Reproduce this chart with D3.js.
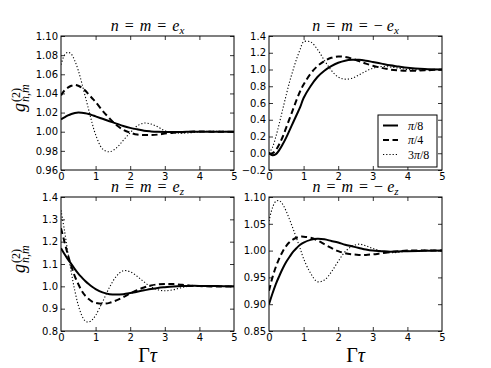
<!DOCTYPE html>
<html>
<head>
<meta charset="utf-8">
<script src="https://cdn.jsdelivr.net/npm/d3@7"></script>
<style>
  body { margin: 0; background: #fff; }
  text { fill: #000; }
</style>
</head>
<body>
<div id="chart"></div>
<script>
// sample points (Gamma tau)
const tau = [0, 0.1, 0.2, 0.3, 0.4, 0.5, 0.6, 0.7, 0.8, 0.9, 1.0, 1.2, 1.4, 1.6, 1.8, 2.0,
             2.2, 2.4, 2.6, 2.8, 3.0, 3.25, 3.5, 3.75, 4.0, 4.5, 5.0];

// n = m = e_x
const exPi8  = [1.013, 1.015, 1.017, 1.0185, 1.0195, 1.020, 1.0198, 1.0193, 1.0185, 1.0173, 1.016, 1.0135, 1.011, 1.0085, 1.006, 1.004,
                1.0025, 1.001, 1.0003, 0.9999, 0.9997, 0.9997, 0.9998, 0.9999, 1.0, 1.0, 1.0];
const exPi4  = [1.038, 1.043, 1.046, 1.048, 1.049, 1.048, 1.046, 1.043, 1.039, 1.035, 1.031, 1.022, 1.014, 1.007, 1.002, 0.999,
                0.997, 0.9965, 0.9965, 0.997, 0.998, 0.999, 0.9995, 1.0, 1.0002, 1.0, 1.0];
const ex3Pi8 = [1.070, 1.080, 1.083, 1.081, 1.074, 1.064, 1.051, 1.037, 1.023, 1.009, 0.997, 0.982, 0.979, 0.983, 0.991, 0.999,
                1.006, 1.009, 1.008, 1.005, 1.001, 0.999, 0.9985, 0.999, 1.0, 1.0005, 1.0];

// n = m = -e_x
const mexPi8  = [0.0, -0.025, -0.01, 0.04, 0.11, 0.19, 0.28, 0.37, 0.46, 0.55, 0.66, 0.80, 0.91, 0.985, 1.04, 1.08,
                 1.105, 1.115, 1.115, 1.105, 1.09, 1.07, 1.05, 1.035, 1.02, 1.005, 1.0];
const mexPi4  = [0.0, 0.0, 0.04, 0.11, 0.2, 0.31, 0.42, 0.53, 0.64, 0.74, 0.82, 0.95, 1.04, 1.10, 1.14, 1.155,
                 1.15, 1.13, 1.10, 1.07, 1.045, 1.02, 1.0, 0.99, 0.985, 0.99, 1.0];
const mex3Pi8 = [0.0, 0.07, 0.2, 0.36, 0.53, 0.70, 0.86, 1.0, 1.13, 1.24, 1.33, 1.33, 1.24, 1.11, 0.99, 0.91,
                 0.885, 0.895, 0.935, 0.98, 1.015, 1.035, 1.03, 1.015, 1.0, 0.995, 1.0];

// n = m = e_z
const ezPi8  = [1.17, 1.145, 1.12, 1.10, 1.077, 1.057, 1.04, 1.024, 1.01, 0.998, 0.988, 0.973, 0.965, 0.963, 0.965, 0.97,
                0.976, 0.982, 0.988, 0.993, 0.996, 0.999, 1.001, 1.002, 1.002, 1.001, 1.0];
const ezPi4  = [1.26, 1.20, 1.14, 1.09, 1.045, 1.01, 0.98, 0.958, 0.943, 0.932, 0.926, 0.922, 0.926, 0.937, 0.952, 0.968,
                0.983, 0.995, 1.004, 1.009, 1.011, 1.01, 1.007, 1.003, 1.001, 0.999, 1.0];
const ez3Pi8 = [1.34, 1.25, 1.15, 1.06, 0.98, 0.915, 0.87, 0.845, 0.84, 0.85, 0.87, 0.93, 0.995, 1.045, 1.07, 1.065,
                1.045, 1.02, 0.998, 0.985, 0.98, 0.985, 0.995, 1.002, 1.004, 1.001, 1.0];

// n = m = -e_z
const mezPi8  = [0.900, 0.92, 0.938, 0.953, 0.967, 0.979, 0.989, 0.998, 1.005, 1.011, 1.015, 1.020, 1.022, 1.021, 1.018, 1.015,
                 1.011, 1.008, 1.005, 1.002, 1.0, 0.999, 0.998, 0.9985, 0.999, 0.9995, 1.0];
const mezPi4  = [0.925, 0.95, 0.97, 0.986, 0.999, 1.009, 1.016, 1.021, 1.024, 1.026, 1.026, 1.024, 1.019, 1.012, 1.005, 0.999,
                 0.995, 0.993, 0.992, 0.992, 0.993, 0.995, 0.997, 0.999, 1.0, 1.0, 1.0];
const mez3Pi8 = [1.055, 1.08, 1.092, 1.093, 1.086, 1.073, 1.057, 1.04, 1.022, 1.004, 0.985, 0.958, 0.942, 0.945, 0.960, 0.980,
                 0.998, 1.008, 1.012, 1.009, 1.004, 0.999, 0.996, 0.997, 0.999, 1.0005, 1.0];

const xTicks = [0, 1, 2, 3, 4, 5];
const yTicksEx  = [0.96, 0.98, 1.00, 1.02, 1.04, 1.06, 1.08, 1.10];
const yTicksMex = [-0.2, 0.0, 0.2, 0.4, 0.6, 0.8, 1.0, 1.2, 1.4];
const yTicksEz  = [0.8, 0.9, 1.0, 1.1, 1.2, 1.3, 1.4];
const yTicksMez = [0.85, 0.90, 0.95, 1.00, 1.05, 1.10];
const legendLabels = ["π/8", "π/4", "3π/8"];

const W = 491, H = 368
const styles = [
    {width: 2, dash: null},
    {width: 2, dash: "6,3.5"},
    {width: 1.1, dash: "1.2,2"}
]

const panels = [
    {x0: 61, x1: 234, y0: 36, y1: 170, dom: [0.96, 1.10], ticks: yTicksEx, fmt: d3.format(".2f"),
     neg: false, sub: "x", series: [exPi8, exPi4, ex3Pi8], ylab: true, xlab: false},
    {x0: 269, x1: 442, y0: 36, y1: 170, dom: [-0.2, 1.4], ticks: yTicksMex, fmt: d3.format(".1f"),
     neg: true, sub: "x", series: [mexPi8, mexPi4, mex3Pi8], ylab: false, xlab: false, legend: true},
    {x0: 61, x1: 234, y0: 197, y1: 331, dom: [0.8, 1.4], ticks: yTicksEz, fmt: d3.format(".1f"),
     neg: false, sub: "z", series: [ezPi8, ezPi4, ez3Pi8], ylab: true, xlab: true},
    {x0: 269, x1: 442, y0: 197, y1: 331, dom: [0.85, 1.10], ticks: yTicksMez, fmt: d3.format(".2f"),
     neg: true, sub: "z", series: [mezPi8, mezPi4, mez3Pi8], ylab: false, xlab: true}
]

const svg = d3.select("#chart").append("svg")
    .attr("width", W)
    .attr("height", H)
    .style("font-family", "'DejaVu Sans', sans-serif")

const serif = "'Liberation Serif', 'Times New Roman', serif"

panels.forEach(function (p, k) {
    const x = d3.scaleLinear().domain([0, 5]).range([p.x0, p.x1])
    const y = d3.scaleLinear().domain(p.dom).range([p.y1, p.y0])

    svg.append("clipPath").attr("id", "clip" + k)
        .append("rect")
        .attr("x", p.x0).attr("y", p.y0)
        .attr("width", p.x1 - p.x0).attr("height", p.y1 - p.y0)

    const line = d3.line()
        .x((d, i) => x(tau[i]))
        .y(d => y(d))
        .curve(d3.curveCatmullRom.alpha(0.5))

    const g = svg.append("g")
    p.series.forEach(function (s, j) {
        g.append("path")
            .datum(s)
            .attr("d", line)
            .attr("fill", "none")
            .attr("stroke", "#000")
            .attr("stroke-width", styles[j].width)
            .attr("stroke-dasharray", styles[j].dash)
            .attr("clip-path", "url(#clip" + k + ")")
    })

    // axes: ticks pointing inwards on all four sides
    const bottom = svg.append("g").attr("transform", "translate(0," + p.y1 + ")")
        .call(d3.axisBottom(x).tickValues(xTicks).tickSize(-4).tickPadding(3).tickFormat(d3.format("d")))
    const top = svg.append("g").attr("transform", "translate(0," + p.y0 + ")")
        .call(d3.axisTop(x).tickValues(xTicks).tickSize(-4).tickFormat(""))
    const left = svg.append("g").attr("transform", "translate(" + p.x0 + ",0)")
        .call(d3.axisLeft(y).tickValues(p.ticks).tickSize(-4).tickPadding(3)
            .tickFormat(d => p.fmt(d).replace("-", "−")))
    const right = svg.append("g").attr("transform", "translate(" + p.x1 + ",0)")
        .call(d3.axisRight(y).tickValues(p.ticks).tickSize(-4).tickFormat(""))

    ;[bottom, top, left, right].forEach(function (a) {
        a.select(".domain").remove()
        a.selectAll("line").attr("stroke", "#000").attr("stroke-width", 0.8)
        a.selectAll("text").style("font-family", "'DejaVu Sans', sans-serif").style("font-size", "10px")
    })
    bottom.selectAll(".tick line").filter(d => d === 0 || d === 5).remove()
    top.selectAll(".tick line").filter(d => d === 0 || d === 5).remove()

    svg.append("rect")
        .attr("x", p.x0).attr("y", p.y0)
        .attr("width", p.x1 - p.x0).attr("height", p.y1 - p.y0)
        .attr("fill", "none").attr("stroke", "#000").attr("stroke-width", 1)

    // title
    const t = svg.append("text")
        .attr("x", (p.x0 + p.x1) / 2)
        .attr("y", p.y0 - 5)
        .attr("text-anchor", "middle")
        .style("font-family", serif)
        .style("font-size", "16px")
    t.append("tspan").style("font-style", "italic").text("n")
    t.append("tspan").attr("dx", 6).text("=")
    t.append("tspan").attr("dx", 6).style("font-style", "italic").text("m")
    t.append("tspan").attr("dx", 6).text("=")
    if (p.neg) t.append("tspan").attr("dx", 6).text("−")
    t.append("tspan").attr("dx", p.neg ? 4 : 6).style("font-style", "italic").text("e")
    t.append("tspan").attr("dy", 3).style("font-style", "italic").style("font-size", "11px").text(p.sub)

    if (p.ylab) {
        const yl = svg.append("g")
            .attr("transform", "translate(25," + ((p.y0 + p.y1) / 2 - 8) + ") rotate(-90)")
            .style("font-family", serif)
        yl.append("text").attr("x", -17).attr("y", 0)
            .style("font-style", "italic").style("font-size", "18px").text("g")
        yl.append("text").attr("x", -7).attr("y", -5)
            .style("font-size", "12px").text("(2)")
        yl.append("text").attr("x", -7).attr("y", 4)
            .style("font-style", "italic").style("font-size", "12px").text("n,m")
    }

    if (p.xlab) {
        const xl = svg.append("text")
            .attr("x", (p.x0 + p.x1) / 2)
            .attr("y", 362)
            .attr("text-anchor", "middle")
            .style("font-family", serif)
            .style("font-size", "20px")
        xl.append("tspan").text("Γ")
        xl.append("tspan").style("font-style", "italic").text("τ")
    }

    if (p.legend) {
        const lg = svg.append("g")
        lg.append("rect")
            .attr("x", 378).attr("y", 115).attr("width", 59).attr("height", 52)
            .attr("fill", "#fff").attr("stroke", "#000").attr("stroke-width", 1)
        legendLabels.forEach(function (lab, j) {
            const ry = 125.5 + j * 14.5
            lg.append("line")
                .attr("x1", 383).attr("x2", 398).attr("y1", ry).attr("y2", ry)
                .attr("stroke", "#000")
                .attr("stroke-width", styles[j].width)
                .attr("stroke-dasharray", styles[j].dash)
            const tx = lg.append("text")
                .attr("x", 408).attr("y", ry + 4)
                .style("font-family", serif)
                .style("font-size", "12px")
            const parts = lab.split("π")
            tx.append("tspan").text(parts[0])
            tx.append("tspan").style("font-style", "italic").text("π")
            tx.append("tspan").text(parts[1])
        })
    }
})
</script>
</body>
</html>
